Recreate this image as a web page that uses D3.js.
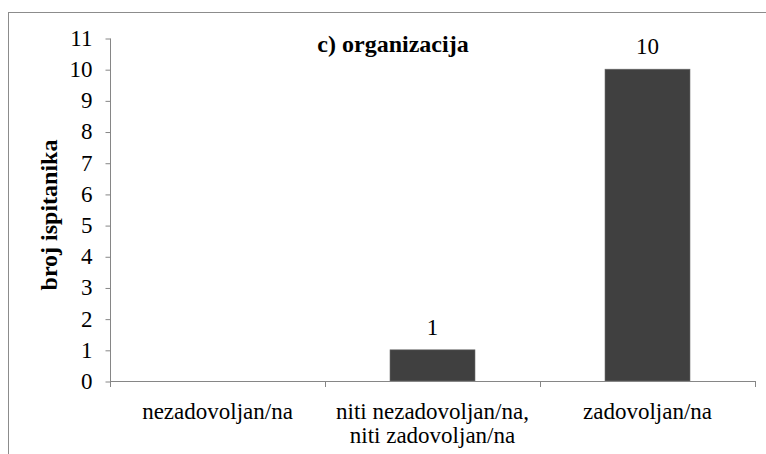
<!DOCTYPE html>
<html>
<head>
<meta charset="utf-8">
<script src="https://cdn.jsdelivr.net/npm/d3@7"></script>
</head>
<body style="margin:0">
<script>
// data
const categories = [['nezadovoljan/na'], ['niti nezadovoljan/na,', 'niti zadovoljan/na'], ['zadovoljan/na']]
const values = [0, 1, 10]
const valueLabels = ['', '1', '10']
const yTicks = [0, 1, 2, 3, 4, 5, 6, 7, 8, 9, 10, 11]

const W = 766, H = 454
const plot = { left: 110, right: 755, top: 38, bottom: 381 }
const axisColor = '#868686'

const svg = d3.select('body').append('svg')
    .attr('width', W)
    .attr('height', H)
    .style('display', 'block')

// outer chart frame (runs off the right and bottom edge)
svg.append('rect')
    .attr('x', 8.5).attr('y', 12.5)
    .attr('width', W + 20).attr('height', H + 20)
    .attr('fill', 'none')
    .attr('stroke', '#8c8c8c')

const keys = categories.map((c, i) => i)

const x = d3.scaleBand()
    .domain(keys)
    .range([plot.left, plot.right])
    .paddingInner(0.6047)
    .paddingOuter(0.30235)

const y = d3.scaleLinear()
    .domain([0, 11])
    .range([plot.bottom, plot.top])

// sets the serif font on a text selection
function serif(sel, size, bold) {
    sel.style('font-family', "'Liberation Serif'")
        .style('font-size', size + 'px')
        .style('font-weight', bold ? 'bold' : 'normal')
        .attr('fill', '#000')
}

// y axis
const yAxis = svg.append('g')
    .attr('transform', 'translate(' + (plot.left + 0.5) + ',0)')
    .call(d3.axisLeft(y).tickValues(yTicks).tickSize(5).tickPadding(13))
yAxis.attr('font-family', null).attr('font-size', null)
yAxis.selectAll('text').call(serif, 23)
yAxis.select('.domain')
    .attr('stroke', axisColor)
    .attr('d', 'M0,' + (y(11) + 0.5) + 'V' + (y(0) + 0.5))
yAxis.selectAll('.tick line')
    .attr('stroke', axisColor)
    .attr('transform', 'translate(0,0.5)')

// bars
svg.selectAll('.bar')
    .data(values)
    .enter()
    .append('rect')
    .attr('class', 'bar')
    .attr('x', (d, i) => x(i))
    .attr('y', d => y(d))
    .attr('width', x.bandwidth())
    .attr('height', d => y(0) - y(d))
    .attr('fill', '#404040')
    .attr('stroke', '#6e6e6e')
    .attr('stroke-width', 0.6)

// x axis line and category separators
const bounds = [plot.left].concat(keys.map(i => x(i) + x.bandwidth() + x.step() * x.paddingInner() / 2))
const xAxis = svg.append('g')
xAxis.append('line')
    .attr('x1', plot.left).attr('x2', plot.right + 1)
    .attr('y1', y(0) + 0.5).attr('y2', y(0) + 0.5)
    .attr('stroke', axisColor)
xAxis.selectAll('.sep')
    .data(bounds)
    .enter()
    .append('line')
    .attr('x1', d => Math.round(d) + 0.5).attr('x2', d => Math.round(d) + 0.5)
    .attr('y1', y(0)).attr('y2', y(0) + 6)
    .attr('stroke', axisColor)

// category labels
svg.selectAll('.cat')
    .data(categories)
    .enter()
    .append('text')
    .attr('class', 'cat')
    .attr('text-anchor', 'middle')
    .call(serif, 23)
    .each(function (lines, i) {
        d3.select(this).selectAll('tspan')
            .data(lines)
            .enter()
            .append('tspan')
            .attr('x', x(i) + x.bandwidth() / 2)
            .attr('y', (d, j) => 419 + j * 24)
            .text(d => d)
    })

// value labels
svg.selectAll('.val')
    .data(values)
    .enter()
    .append('text')
    .attr('class', 'val')
    .attr('text-anchor', 'middle')
    .attr('x', (d, i) => x(i) + x.bandwidth() / 2)
    .attr('y', d => y(d) - 15)
    .call(serif, 23)
    .text((d, i) => valueLabels[i])

// title
svg.append('text')
    .attr('x', 393)
    .attr('y', 52)
    .attr('text-anchor', 'middle')
    .call(serif, 24, true)
    .text('c) organizacija')

// y axis label
svg.append('text')
    .attr('transform', 'translate(57,215) rotate(-90)')
    .attr('text-anchor', 'middle')
    .call(serif, 24, true)
    .text('broj ispitanika')
</script>
</body>
</html>
